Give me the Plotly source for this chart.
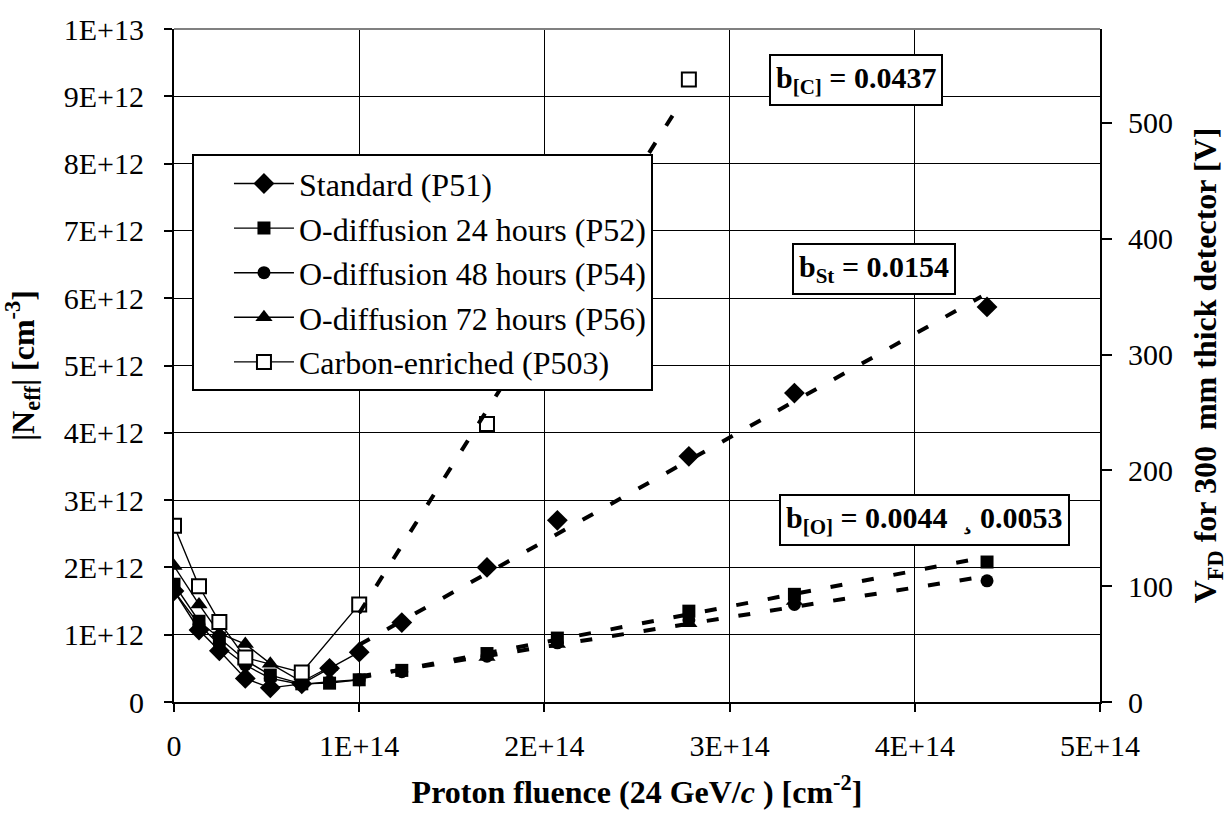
import numpy as np
import plotly.graph_objects as go

# Proton fluence (cm^-2) and |Neff| (cm^-3) for each detector type
std_fluence = [0, 1.35e13, 2.45e13, 3.85e13, 5.2e13, 6.9e13, 8.4e13, 1.0e14,
               1.23e14, 1.69e14, 2.07e14, 2.78e14, 3.35e14, 4.39e14]
std_neff = [1.65e12, 1.07e12, 0.76e12, 0.35e12, 0.21e12, 0.27e12, 0.50e12, 0.74e12,
            1.18e12, 2.00e12, 2.70e12, 3.65e12, 4.59e12, 5.87e12]

p52_fluence = [0, 1.35e13, 2.45e13, 3.85e13, 5.2e13, 6.9e13, 8.4e13, 1.0e14,
               1.23e14, 1.69e14, 2.07e14, 2.78e14, 3.35e14, 4.39e14]
p52_neff = [1.75e12, 1.20e12, 0.95e12, 0.62e12, 0.40e12, 0.27e12, 0.28e12, 0.33e12,
            0.47e12, 0.72e12, 0.95e12, 1.35e12, 1.60e12, 2.08e12]

p54_fluence = [0, 1.35e13, 2.45e13, 3.85e13, 5.2e13, 6.9e13, 8.4e13, 1.0e14,
               1.23e14, 1.69e14, 2.07e14, 2.78e14, 3.35e14, 4.39e14]
p54_neff = [1.65e12, 1.15e12, 0.85e12, 0.55e12, 0.35e12, 0.26e12, 0.30e12, 0.33e12,
            0.45e12, 0.68e12, 0.88e12, 1.22e12, 1.45e12, 1.80e12]

p56_fluence = [0, 1.35e13, 2.45e13, 3.85e13, 5.2e13, 6.9e13, 8.4e13,
               1.69e14, 2.07e14, 2.78e14, 3.35e14]
p56_neff = [2.02e12, 1.45e12, 1.02e12, 0.86e12, 0.57e12, 0.30e12, 0.52e12,
            0.67e12, 0.86e12, 1.17e12, 1.50e12]

p503_fluence = [0, 1.35e13, 2.45e13, 3.85e13, 6.9e13, 1.0e14, 1.69e14, 2.78e14]
p503_neff = [2.62e12, 1.72e12, 1.19e12, 0.66e12, 0.44e12, 1.45e12, 4.13e12, 9.25e12]

series_names = ["Standard (P51)", "O-diffusion 24 hours (P52)", "O-diffusion 48 hours (P54)",
                "O-diffusion 72 hours (P56)", "Carbon-enriched (P503)"]

# Linear fits above 1E14: slope b, start/end fluence, |Neff| at start
fit_slopes = [0.0437, 0.0154, 0.0053, 0.0044]
fit_start = [1.0e14, 1.0e14, 1.0e14, 1.0e14]
fit_end = [2.72e14, 4.36e14, 4.39e14, 4.39e14]
fit_start_neff = [1.32e12, 0.85e12, 0.36e12, 0.38e12]

# Right-hand axis: depletion voltage per unit |Neff|
volt_per_neff = 58.1 / 1e12
volt_ticks = [0, 100, 200, 300, 400, 500]

FONT = "Liberation Serif"
split = 1.0e14

fig = go.Figure()

series = [
    (series_names[0], std_fluence, std_neff, "diamond", 16, "black"),
    (series_names[1], p52_fluence, p52_neff, "square", 13, "black"),
    (series_names[2], p54_fluence, p54_neff, "circle", 13, "black"),
    (series_names[3], p56_fluence, p56_neff, "triangle-up", 15, "black"),
    (series_names[4], p503_fluence, p503_neff, "square", 14, "white"),
]

for i, (name, fx, fy, sym, size, fill) in enumerate(series):
    fx = np.array(fx)
    fy = np.array(fy)
    low = fx <= split
    marker = dict(symbol=sym, size=size, color=fill,
                  line=dict(color="black", width=2 if fill == "white" else 0))
    fig.add_trace(go.Scatter(
        x=fx[low], y=fy[low], mode="lines+markers", name=name,
        line=dict(color="black", width=1.4), marker=marker,
        legendgroup=f"g{i}", showlegend=True))
    if (~low).any():
        fig.add_trace(go.Scatter(
            x=fx[~low], y=fy[~low], mode="markers", name=name,
            marker=marker, legendgroup=f"g{i}", showlegend=False))

for b, x0, x1, n0 in zip(fit_slopes, fit_start, fit_end, fit_start_neff):
    xs = np.array([x0, x1])
    ys = n0 + b * (xs - x0)
    fig.add_trace(go.Scatter(
        x=xs, y=ys, mode="lines", showlegend=False, hoverinfo="skip",
        line=dict(color="black", width=4, dash="12px,20px")))

# voltage scale of the standard series (invisible, keeps the right axis laid out)
fig.add_trace(go.Scatter(x=np.array(std_fluence), y=np.array(std_neff) * volt_per_neff,
                         yaxis="y2", mode="markers", marker=dict(opacity=0),
                         showlegend=False, hoverinfo="skip"))

tick_font = dict(family=FONT, size=30, color="black")
title_font = dict(family=FONT, size=32, color="black")

fig.update_layout(
    width=1231, height=818,
    margin=dict(l=174, r=131, t=18, b=116),
    paper_bgcolor="white", plot_bgcolor="white",
    font=dict(family=FONT, color="black"),
    xaxis=dict(
        range=[0, 5e14], tickvals=[0, 1e14, 2e14, 3e14, 4e14, 5e14],
        ticktext=["0", "1E+14", "2E+14", "3E+14", "4E+14", "5E+14"],
        showgrid=True, gridcolor="black", gridwidth=1,
        showline=True, linecolor="black", linewidth=2,
        ticks="outside", ticklen=8, tickwidth=2, tickcolor="black",
        tickfont=tick_font, zeroline=False, ticklabelstandoff=8,
        title=dict(text="<b>Proton fluence (24 GeV/<i>c</i> ) [cm<sup>-2</sup>]</b>",
                   font=title_font, standoff=20),
    ),
    yaxis=dict(
        range=[0, 1e13], tickvals=[i * 1e12 for i in range(11)],
        ticktext=["0"] + [f"{i}E+12" for i in range(1, 10)] + ["1E+13"],
        showgrid=True, gridcolor="black", gridwidth=1,
        showline=True, linecolor="black", linewidth=2,
        ticks="outside", ticklen=8, tickwidth=2, tickcolor="black",
        tickfont=tick_font, zeroline=False, ticklabelstandoff=14,
        title=dict(text="<b>|N<sub>eff</sub>| [cm<sup>-3</sup>]</b>",
                   font=title_font, standoff=20),
    ),
    yaxis2=dict(
        overlaying="y", side="right", anchor="x",
        range=[0, 1e13 * volt_per_neff], tickvals=volt_ticks,
        showgrid=False, zeroline=False,
        showline=True, linecolor="black", linewidth=2,
        ticks="outside", ticklen=10, tickwidth=2, tickcolor="black",
        tickfont=tick_font, ticklabelstandoff=10,
        title=dict(text="<b>V<sub>FD</sub> for 300  mm thick detector [V]</b>",
                   font=title_font, standoff=22),
    ),
    legend=dict(
        x=0.0194, y=0.814, xanchor="left", yanchor="top",
        bgcolor="white", bordercolor="black", borderwidth=2,
        font=dict(family=FONT, size=32, color="black"),
        itemwidth=60, indentation=35, tracegroupgap=0, traceorder="grouped",
    ),
    showlegend=True,
)

# top frame line
fig.add_shape(type="line", xref="paper", yref="paper", x0=0, x1=1, y0=1, y1=1,
              line=dict(color="#808080", width=2))

box = dict(bordercolor="black", borderwidth=2, bgcolor="white", borderpad=5,
           font=dict(family=FONT, size=30, color="black"), showarrow=False,
           xref="x", yref="y")
fig.add_annotation(x=3.68e14, y=9.24e12, text="<b>b<sub>[C]</sub> = 0.0437</b>", **box)
fig.add_annotation(x=3.78e14, y=6.43e12, text="<b>b<sub>St</sub> = 0.0154</b>", **box)
fig.add_annotation(x=4.05e14, y=2.70e12, text="<b>b<sub>[O]</sub> = 0.0044  ¸ 0.0053</b>", **box)

fig.write_html("out.html")
